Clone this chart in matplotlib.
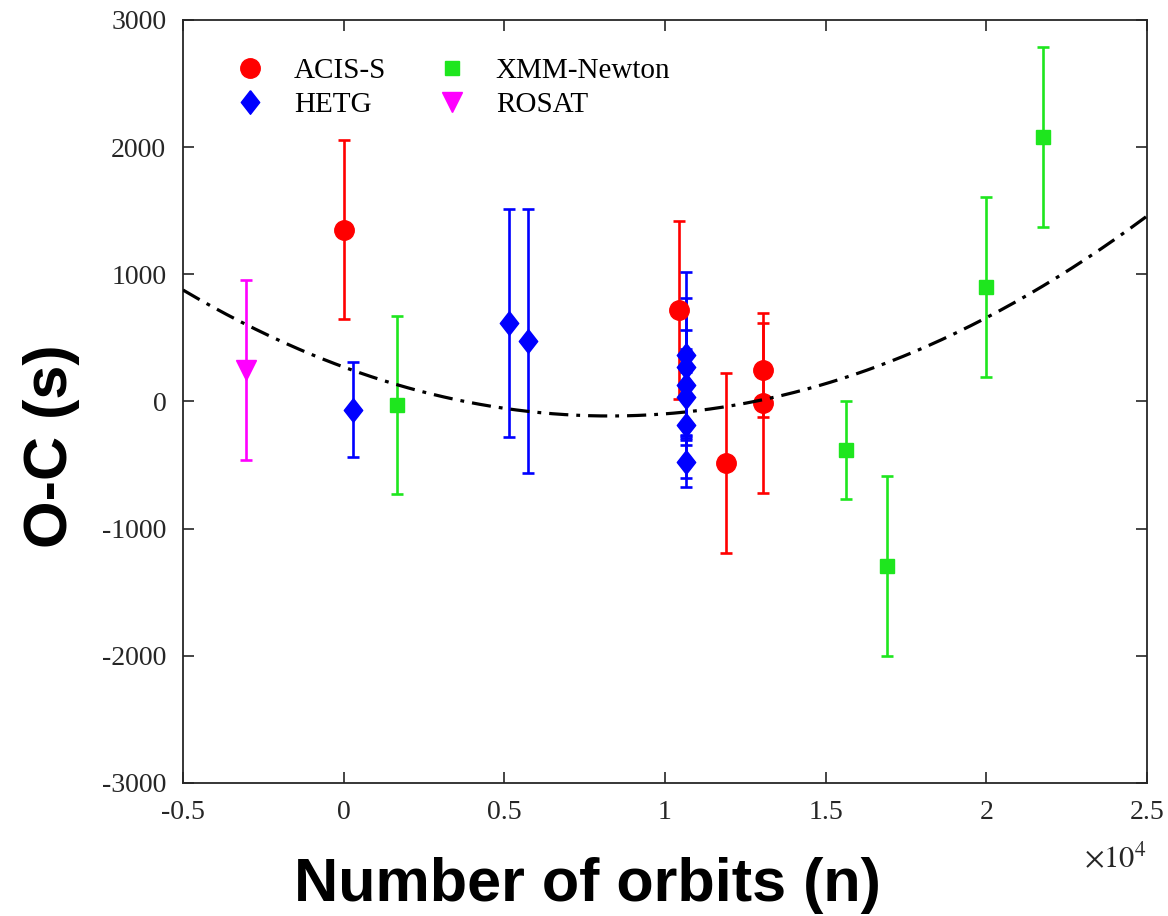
import numpy as np
import matplotlib
matplotlib.use('Agg')
from matplotlib import pyplot as plt
from matplotlib.ticker import FuncFormatter
from matplotlib.lines import Line2D

# Data (n in orbits, O-C in seconds)
acis_n = [0, 10440, 11900, 13050, 13050]
acis_oc = [1350, 720, -483, 248, -12]
acis_err = [705, 700, 710, 370, 710]

hetg_n = [300, 5150, 5740, 10660, 10660, 10660, 10660, 10660, 10660]
hetg_oc = [-65, 617, 475, 366, 274, 130, 35, -185, -473]
hetg_err = [375, 900, 1040, 650, 537, 432, 380, 420, 200]

xmm_n = [1660, 15640, 16910, 19990, 21770]
xmm_oc = [-27, -381, -1293, 900, 2079]
xmm_err = [700, 385, 708, 708, 708]

rosat_n = [-3040]
rosat_oc = [248]
rosat_err = [705]

# quadratic ephemeris fit: O-C = a*(n - n0)^2 + c
fit_a = 562e-8
fit_n0 = 8276
fit_c = -114

serif = 'Liberation Serif'
sans = 'Liberation Sans'

c_acis, c_hetg, c_xmm, c_rosat = '#ff0000', '#0000ff', '#1ee61e', '#ff00ff'
# diamond a bit taller than wide, like the original
diamond = [(0, 1), (0.78, 0), (0, -1), (-0.78, 0), (0, 1)]

fig = plt.figure(figsize=(11.68, 9.16), dpi=100)
ax = fig.add_axes([0.1567, 0.1452, 0.8253, 0.833])

n_fit = np.linspace(-5000, 25000, 400)
ax.plot(n_fit, fit_a * (n_fit - fit_n0) ** 2 + fit_c, color='black', lw=2.3,
        linestyle=(0, (6, 2.5, 1.2, 2.5)), zorder=3)

eb = dict(ls='none', elinewidth=1.9, capsize=4.5, capthick=1.9, zorder=2)
ax.errorbar(acis_n, acis_oc, yerr=acis_err, fmt='o', color=c_acis, ms=14, **eb)
ax.errorbar(hetg_n, hetg_oc, yerr=hetg_err, fmt='none', ecolor=c_hetg, **eb)
ax.plot(hetg_n, hetg_oc, ls='none', marker=diamond, color=c_hetg, ms=17, zorder=2)
ax.errorbar(xmm_n, xmm_oc, yerr=xmm_err, fmt='s', color=c_xmm, ms=10, **eb)
ax.errorbar(rosat_n, rosat_oc, yerr=rosat_err, fmt='v', color=c_rosat, ms=15, **eb)

ax.set_xlim(-5000, 25000)
ax.set_ylim(-3000, 3000)
ax.set_xticks(np.arange(-5000, 25001, 5000))
ax.set_yticks(np.arange(-3000, 3001, 1000))
ax.xaxis.set_major_formatter(FuncFormatter(lambda v, p: '%g' % (v / 1e4)))
ax.yaxis.set_major_formatter(FuncFormatter(lambda v, p: '%d' % v))

ax.tick_params(direction='in', length=8, width=1.2, top=True, right=True,
               labelsize=20, colors='#262626', pad=12)
for lab in ax.get_xticklabels() + ax.get_yticklabels():
    lab.set_fontfamily(serif)
for s in ax.spines.values():
    s.set_linewidth(1.3)
    s.set_color('#262626')

ax.text(1.0, -0.08, r'$\times 10^4$', transform=ax.transAxes, ha='right',
        va='top', fontsize=22, color='#262626', fontfamily=serif,
        math_fontfamily='stix')

ax.set_xlabel('Number of orbits (n)', fontsize=44, fontweight='bold',
              fontfamily=sans)
ax.xaxis.set_label_coords(0.42, -0.097)
ax.xaxis.label.set_va('top')
ax.set_ylabel('O-C (s)', fontsize=44, fontweight='bold', fontfamily=sans)
ax.yaxis.set_label_coords(-0.107, 0.442)

handles = [
    Line2D([], [], ls='none', marker='o', color=c_acis, ms=14),
    Line2D([], [], ls='none', marker=diamond, color=c_hetg, ms=17),
    Line2D([], [], ls='none', marker='s', color=c_xmm, ms=10),
    Line2D([], [], ls='none', marker='v', color=c_rosat, ms=15),
]
labels = ['ACIS-S', 'HETG', 'XMM-Newton', 'ROSAT']
ax.legend(handles, labels, loc='upper left', ncol=2, frameon=False, numpoints=1,
          prop={'family': serif, 'size': 21}, handletextpad=0.75,
          columnspacing=1.5, labelspacing=0.25, handlelength=1.5,
          bbox_to_anchor=(0.02, 0.985))

fig.savefig('out.png', dpi=100)
